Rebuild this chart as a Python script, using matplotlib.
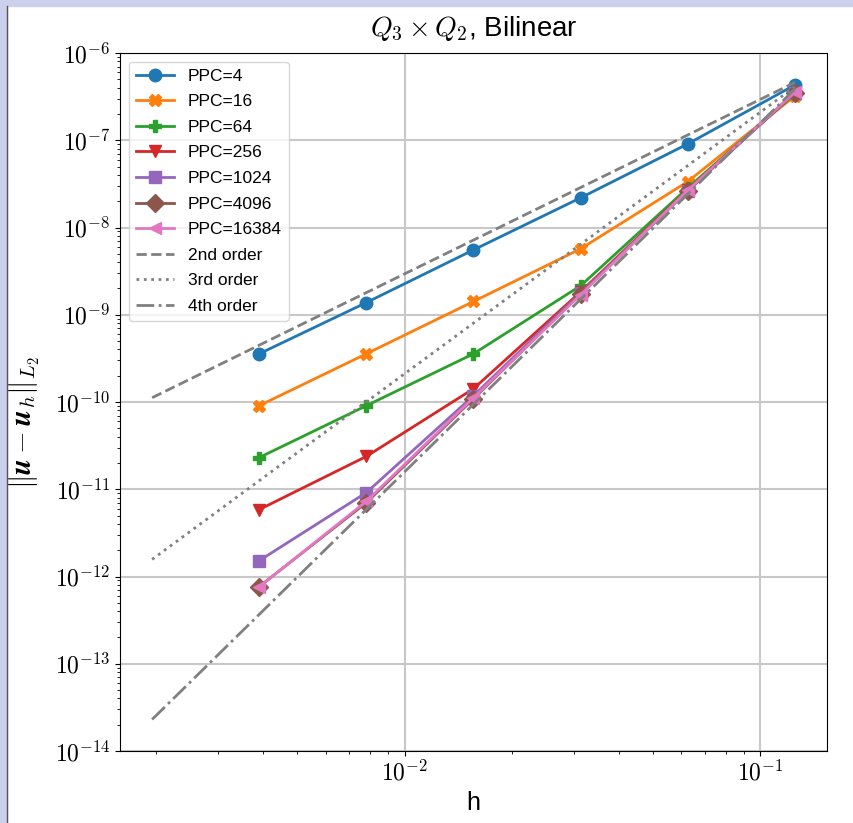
import numpy as np
import matplotlib.pyplot as plt
from matplotlib.patches import Rectangle
from matplotlib.ticker import FuncFormatter

plt.rcParams['font.family'] = ['Liberation Sans', 'DejaVu Sans']
plt.rcParams['mathtext.fontset'] = 'cm'

# mesh sizes
h = [1/256, 1/128, 1/64, 1/32, 1/16, 1/8]

# L2 errors, one list per particles-per-cell
err_4     = [3.57e-10, 1.38e-9, 5.54e-9, 2.19e-8, 9.08e-8, 4.3e-7]
err_16    = [9.08e-11, 3.57e-10, 1.42e-9, 5.70e-9, 3.36e-8, 3.22e-7]
err_64    = [2.31e-11, 9.08e-11, 3.57e-10, 2.15e-9, 2.84e-8, 3.4e-7]
err_256   = [5.85e-12, 2.38e-11, 1.42e-10, 1.83e-9, 2.70e-8, 3.5e-7]
err_1024  = [1.52e-12, 9.16e-12, 1.18e-10, 1.79e-9, 2.64e-8, 3.5e-7]
err_4096  = [7.67e-13, 7.03e-12, 1.09e-10, 1.74e-9, 2.64e-8, 3.5e-7]
err_16384 = [7.6e-13, 7.28e-12, 1.12e-10, 1.70e-9, 2.67e-8, 3.55e-7]

errors = [err_4, err_16, err_64, err_256, err_1024, err_4096, err_16384]
labels = ['PPC=4', 'PPC=16', 'PPC=64', 'PPC=256', 'PPC=1024', 'PPC=4096', 'PPC=16384']
markers = ['o', 'X', 'P', 'v', 's', 'D', '<']

# reference slopes, end points only (straight in log-log)
h_ref = [1/512, 1/8]
ref_2 = [1.12e-10, 4.6e-7]
ref_3 = [1.57e-12, 4.1e-7]
ref_4 = [2.30e-14, 3.86e-7]

fig = plt.figure(figsize=(8.54, 8.23), dpi=100)
fig.patches.append(Rectangle((0, 1 - 6/823), 1, 6/823, transform=fig.transFigure,
                             color='#cdd0ec', zorder=-1))
fig.patches.append(Rectangle((0, 0), 7/854, 1, transform=fig.transFigure,
                             color='#cdd0ec', zorder=-1))
fig.lines.append(plt.Line2D([7.5/854, 7.5/854], [0, 1 - 6/823], transform=fig.transFigure,
                            color='#555555', lw=1))

ax = fig.add_axes([120/854, 1 - 751/823, (827 - 120)/854, (751 - 53)/823])

for e, lab, m in zip(errors, labels, markers):
    ax.loglog(h, e, marker=m, markersize=9, lw=2, label=lab)

ax.loglog(h_ref, ref_2, '--', color='gray', lw=2, label='2nd order')
ax.loglog(h_ref, ref_3, ':', color='gray', lw=2, label='3rd order')
ax.loglog(h_ref, ref_4, '-.', color='gray', lw=2, label='4th order')

ax.set_ylim(1e-14, 1e-6)
pow_fmt = FuncFormatter(lambda v, p: r'$10^{%d}$' % round(np.log10(v)))
ax.xaxis.set_major_formatter(pow_fmt)
ax.yaxis.set_major_formatter(pow_fmt)
ax.grid(True, which='major', color='#c8c8c8', lw=1.5)
ax.tick_params(labelsize=17)
ax.set_xlabel('h', fontsize=18)
ax.set_ylabel(r'$\|\boldsymbol{u} - \boldsymbol{u}_h\|_{L_2}$', fontsize=21, labelpad=2)
ax.yaxis.set_label_coords(-0.11, 0.47)
ax.set_title(r'$Q_3 \times Q_2$, Bilinear', fontsize=20, pad=12)
ax.legend(loc='upper left', fontsize=12.5, labelspacing=0.6, handlelength=2.2)

fig.savefig('out.png', dpi=100)
